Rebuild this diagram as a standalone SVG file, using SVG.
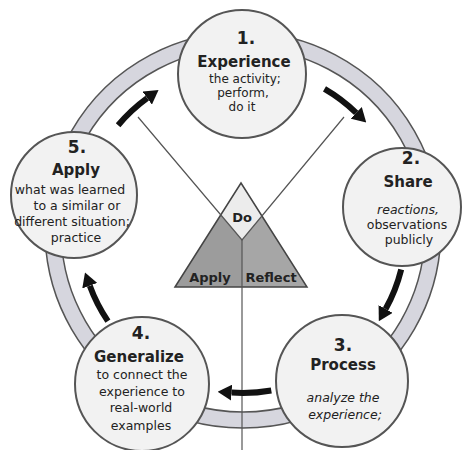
<svg xmlns="http://www.w3.org/2000/svg" width="468" height="450" viewBox="0 0 468 450">
<style>
text{font-family:"DejaVu Sans","Liberation Sans",sans-serif;fill:#222;text-anchor:middle}
.num{font-size:17px;font-weight:bold}
.ttl{font-size:15px;font-weight:bold}
.bd{font-size:12.5px}
.sm{font-size:12px}
.it{font-style:italic}
.tri{font-size:13px;font-weight:bold}
.node{fill:#f2f2f2;stroke:#555;stroke-width:2}
.arr{fill:none;stroke:#111;stroke-width:6}
.thin{stroke:#555;stroke-width:1.2;fill:none}
</style>
<defs>
<marker id="head" viewBox="0 -8 14 16" refX="0" refY="0" markerWidth="14" markerHeight="16" markerUnits="userSpaceOnUse" orient="auto">
<path d="M0,-8 L14,0 L0,8 z" fill="#111"/>
</marker>
</defs>
<rect width="468" height="450" fill="#fff"/>
<g id="ring">
<path d="M243,32 A198,198 0 1 1 242.9,32 Z M243,48 A182,182 0 1 0 243.1,48 Z" fill="#d6d6de" fill-rule="evenodd" stroke="#555" stroke-width="1.5"/>
</g>
<g id="triangle">
<polygon points="175,287 220.8,214.9 242,240 242,287" fill="#9c9c9c"/>
<polygon points="242,287 242,240 261.9,216 307,287" fill="#a6a6a6"/>
<polygon points="241,183 261.9,216 242,240 220.8,214.9" fill="#ececec"/>
<polygon points="175,287 241,183 307,287" fill="none" stroke="#444" stroke-width="1.5"/>
<text class="tri" x="242" y="222">Do</text>
<text class="tri" x="210" y="282">Apply</text>
<text class="tri" x="271" y="282">Reflect</text>
</g>
<g id="connectors">
<path class="thin" d="M138,117 L242,240 L344,117"/>
<path class="thin" d="M242,240 L242,450"/>
<path class="arr" marker-end="url(#head)" d="M118.1,125.2 A163,163 0 0 1 147.2,98.1"/>
<path class="arr" marker-end="url(#head)" d="M324.5,88.8 A163,163 0 0 1 356.2,112.8"/>
<path class="arr" marker-end="url(#head)" d="M401.2,269.4 A163,163 0 0 1 385.6,309"/>
<path class="arr" marker-end="url(#head)" d="M271.3,390.5 A163,163 0 0 1 231.6,392.6"/>
<path class="arr" marker-end="url(#head)" d="M107.9,321.1 A163,163 0 0 1 89.8,285.7"/>
</g>
<g id="n1">
<circle class="node" cx="242" cy="74" r="64"/>
<text class="num" x="246" y="44">1.</text>
<text class="ttl" x="244" y="67">Experience</text>
<text class="sm" x="245" y="83">the activity;</text>
<text class="sm" x="243" y="97">perform,</text>
<text class="sm" x="242" y="111">do it</text>
</g>
<g id="n2">
<circle class="node" cx="402" cy="207" r="59"/>
<text class="num" x="411" y="164">2.</text>
<text class="ttl" x="408" y="187">Share</text>
<text class="bd it" x="408" y="214">reactions,</text>
<text class="bd" x="407" y="229">observations</text>
<text class="bd" x="409" y="244">publicly</text>
</g>
<g id="n3">
<circle class="node" cx="342" cy="381" r="66"/>
<text class="num" x="343" y="351">3.</text>
<text class="ttl" x="343" y="370">Process</text>
<text class="bd it" x="343" y="402">analyze the</text>
<text class="bd it" x="345" y="419">experience;</text>
</g>
<g id="n4">
<circle class="node" cx="142" cy="384" r="67"/>
<text class="num" x="141" y="339">4.</text>
<text class="ttl" x="139" y="362">Generalize</text>
<text class="bd" x="142" y="379">to connect the</text>
<text class="bd" x="142" y="396">experience to</text>
<text class="bd" x="141" y="412">real-world</text>
<text class="bd" x="141" y="430">examples</text>
</g>
<g id="n5">
<circle class="node" cx="74" cy="195" r="63"/>
<text class="num" x="77" y="153">5.</text>
<text class="ttl" x="76" y="175">Apply</text>
<text class="bd" x="70" y="194">what was learned</text>
<text class="bd" x="77" y="210">to a similar or</text>
<text class="bd" x="72" y="226">different situation;</text>
<text class="bd" x="76" y="242">practice</text>
</g>
</svg>
